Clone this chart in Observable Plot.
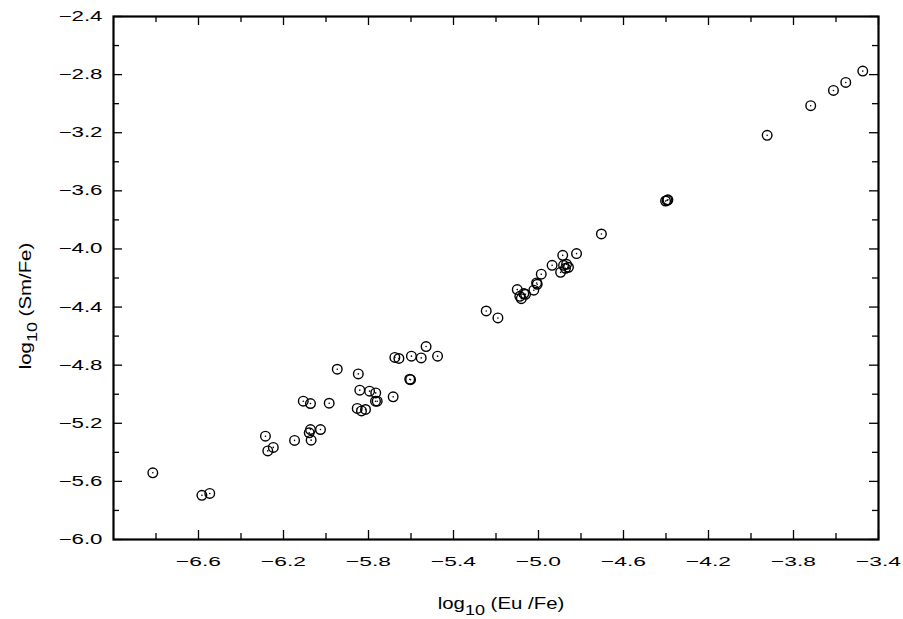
<!DOCTYPE html>
<html><head><meta charset="utf-8">
<script src="https://cdn.jsdelivr.net/npm/d3@7"></script>
<script src="https://cdn.jsdelivr.net/npm/@observablehq/plot@0.6"></script>
<style>html,body{margin:0;padding:0;background:#fff}#chart{width:903px;height:619px}</style>
</head><body><div id="chart"></div>
<script>
const euFe = [-6.815,-6.584,-6.547,-6.285,-6.274,-6.248,-6.148,-6.107,-6.073,-5.985,
  -6.073,-6.079,-6.026,-6.070,-5.947,-5.848,-5.841,-5.795,-5.766,-5.759,
  -5.767,-5.684,-5.853,-5.833,-5.814,-5.676,-5.657,-5.598,-5.552,-5.475,
  -5.529,-5.606,-5.602,-5.246,-5.191,-5.100,-5.069,-5.088,-5.081,-5.061,
  -5.022,-5.009,-5.006,-4.987,-4.936,-4.886,-4.821,-4.882,-4.868,-4.873,
  -4.896,-4.859,-4.704,-4.402,-4.395,-4.391,-3.924,-3.719,-3.612,-3.554,-3.474];
const smFe = [-5.541,-5.696,-5.683,-5.289,-5.390,-5.366,-5.318,-5.048,-5.064,-5.062,
  -5.243,-5.266,-5.243,-5.316,-4.828,-4.860,-4.972,-4.979,-4.991,-5.048,
  -5.048,-5.018,-5.098,-5.115,-5.105,-4.747,-4.754,-4.738,-4.750,-4.738,
  -4.672,-4.897,-4.900,-4.427,-4.475,-4.280,-4.307,-4.326,-4.342,-4.312,
  -4.284,-4.234,-4.243,-4.174,-4.113,-4.044,-4.032,-4.113,-4.106,-4.133,
  -4.161,-4.126,-3.897,-3.670,-3.666,-3.662,-3.218,-3.014,-2.909,-2.854,-2.776];
const xDomain = [-7.0, -3.4];
const yDomain = [-6.0, -2.4];
const xMajorTicks = [-6.6,-6.2,-5.8,-5.4,-5.0,-4.6,-4.2,-3.8,-3.4];
const xMinorTicks = [-6.8,-6.4,-6.0,-5.6,-5.2,-4.8,-4.4,-4.0,-3.6];
const yMajorTicks = [-6.0,-5.6,-5.2,-4.8,-4.4,-4.0,-3.6,-3.2,-2.8,-2.4];
const yMinorTicks = [-5.8,-5.4,-5.0,-4.6,-4.2,-3.8,-3.4,-3.0,-2.6];
const xTitle = ["log", "10", " (Eu /Fe)"];
const yTitle = ["log", "10", " (Sm/Fe)"];

const data = euFe.map((x, i) => ({x, y: smFe[i]}));
const W = 903, H = 619, mL = 113, mR = 25, mT = 16, mB = 80;
const fw = W - mL - mR, fh = H - mT - mB;
const fmt = d3.format(".1f");

const plot = Plot.plot({
  width: W, height: H,
  marginLeft: mL, marginRight: mR, marginTop: mT, marginBottom: mB,
  style: {fontFamily: "'Liberation Sans', Arial, sans-serif", fontSize: "13px", background: "white", color: "black"},
  x: {domain: xDomain},
  y: {domain: yDomain},
  marks: [
    Plot.tickX(xMajorTicks, {x: d => d, insetTop: fh - 9, stroke: "black", strokeWidth: 1.3}),
    Plot.tickX(xMajorTicks, {x: d => d, insetBottom: fh - 9, stroke: "black", strokeWidth: 1.3}),
    Plot.tickX(xMinorTicks, {x: d => d, insetTop: fh - 6, stroke: "black", strokeWidth: 1.3}),
    Plot.tickX(xMinorTicks, {x: d => d, insetBottom: fh - 6, stroke: "black", strokeWidth: 1.3}),
    Plot.tickY(yMajorTicks, {y: d => d, insetRight: fw - 9, stroke: "black", strokeWidth: 1.3}),
    Plot.tickY(yMajorTicks, {y: d => d, insetLeft: fw - 9, stroke: "black", strokeWidth: 1.3}),
    Plot.tickY(yMinorTicks, {y: d => d, insetRight: fw - 6, stroke: "black", strokeWidth: 1.3}),
    Plot.tickY(yMinorTicks, {y: d => d, insetLeft: fw - 6, stroke: "black", strokeWidth: 1.3}),
    Plot.axisX({ticks: xMajorTicks, tickSize: 0, tickPadding: 17, tickFormat: fmt, label: null}),
    Plot.axisY({ticks: yMajorTicks, tickSize: 0, tickPadding: 11, tickFormat: fmt, label: null}),
    Plot.frame({stroke: "black", strokeWidth: 2.2}),
    Plot.dot(data, {x: "x", y: "y", r: 4.8, stroke: "black", strokeWidth: 1.4, fill: "none"}),
    Plot.dot(data, {x: "x", y: "y", r: 0.8, fill: "black", stroke: "none"})
  ]
});
document.getElementById("chart").appendChild(plot);

const svg = d3.select(plot);
svg.selectAll('g[aria-label="x-axis tick label"] text')
  .attr("textLength", 45).attr("lengthAdjust", "spacingAndGlyphs").style("font-size", "13.5px");
svg.selectAll('g[aria-label="y-axis tick label"] text')
  .attr("textLength", 44).attr("lengthAdjust", "spacingAndGlyphs").style("font-size", "14px");

function addTitle(parts, transform) {
  const t = svg.append("text")
    .attr("transform", transform)
    .attr("text-anchor", "middle")
    .attr("fill", "black")
    .style("font-family", "'Liberation Sans', Arial, sans-serif")
    .style("font-size", "17px");
  t.append("tspan").text(parts[0]);
  t.append("tspan").attr("dy", 6).style("font-size", "15px").text(parts[1]);
  t.append("tspan").attr("dy", -6).text(parts[2]);
}
addTitle(xTitle, "translate(501,609) scale(1.2,1)");
addTitle(yTitle, "translate(31,306) rotate(-90) scale(1.2,1)");
</script>
</body></html>
